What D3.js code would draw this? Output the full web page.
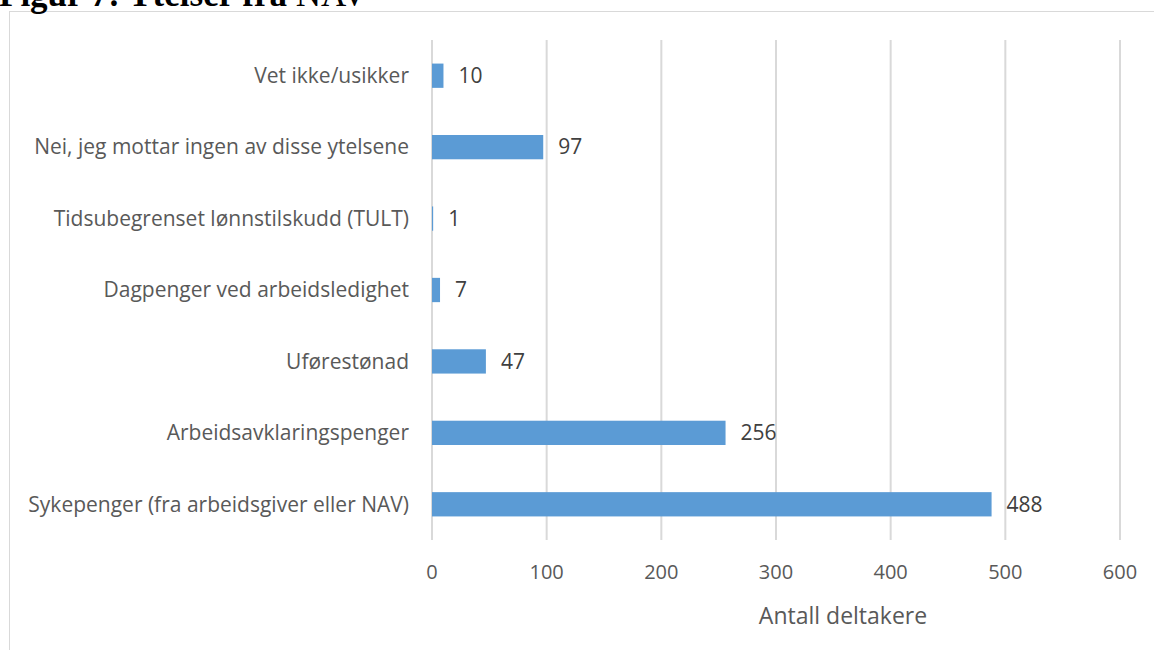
<!DOCTYPE html>
<html><head><meta charset="utf-8">
<script src="https://cdn.jsdelivr.net/npm/d3@7"></script>
<style>body{margin:0;background:#fff;}</style>
</head><body>
<svg id="c" width="1154" height="650"></svg>
<script>
const categories = ["Vet ikke/usikker","Nei, jeg mottar ingen av disse ytelsene","Tidsubegrenset lønnstilskudd (TULT)","Dagpenger ved arbeidsledighet","Uførestønad","Arbeidsavklaringspenger","Sykepenger (fra arbeidsgiver eller NAV)"];
const values = [10,97,1,7,47,256,488];
const xTicks = [0,100,200,300,400,500,600];
const title = "Figur 7: Ytelser fra ";
const titleEnd = "NAV";
const xTitle = "Antall deltakere";

const svg = d3.select("#c");
const font = "'Open Sans', sans-serif";
// outer frame
svg.append("rect").attr("x",9.5).attr("y",11.5).attr("width",1200).attr("height",700)
  .attr("fill","none").attr("stroke","#d9d9d9").attr("stroke-width",1);
// title (clipped at top)
const t = svg.append("text").attr("x",-1).attr("y",6)
  .attr("font-family","'Liberation Serif', 'Times New Roman', serif").attr("font-size",35).attr("fill","#000");
t.append("tspan").attr("font-weight","bold").text(title);
t.append("tspan").text(titleEnd);

const x = d3.scaleLinear().domain([0,600]).range([432,1120]);
const y = d3.scaleBand().domain(categories).range([40,540]).paddingInner(0.66).paddingOuter(0.33);

const g = svg.append("g");
g.selectAll("line.grid").data(xTicks).join("line").attr("class","grid")
  .attr("x1",d=>x(d)).attr("x2",d=>x(d)).attr("y1",40).attr("y2",540)
  .attr("stroke","#d9d9d9").attr("stroke-width",2);

g.selectAll("rect.bar").data(values).join("rect").attr("class","bar")
  .attr("x",x(0)).attr("y",(d,i)=>y(categories[i]))
  .attr("width",d=>x(d)-x(0)).attr("height",y.bandwidth()).attr("fill","#5B9BD5");

g.selectAll("text.val").data(values).join("text").attr("class","val")
  .attr("x",d=>x(d)+15).attr("y",(d,i)=>y(categories[i])+y.bandwidth()/2)
  .attr("dy","0.35em").attr("font-family",font).attr("font-size",21).attr("fill","#404040").text(d=>d);

g.selectAll("text.cat").data(categories).join("text").attr("class","cat")
  .attr("x",409).attr("y",d=>y(d)+y.bandwidth()/2).attr("dy","0.35em").attr("text-anchor","end")
  .attr("font-family",font).attr("font-size",21).attr("fill","#595959").text(d=>d);

g.selectAll("text.tick").data(xTicks).join("text").attr("class","tick")
  .attr("x",d=>x(d)).attr("y",572).attr("dy","0.35em").attr("text-anchor","middle")
  .attr("font-family",font).attr("font-size",20).attr("fill","#595959").text(d=>d);

svg.append("text").attr("x",843).attr("y",616).attr("dy","0.35em").attr("text-anchor","middle")
  .attr("font-family",font).attr("font-size",23).attr("fill","#595959").text(xTitle);
</script>
</body></html>
